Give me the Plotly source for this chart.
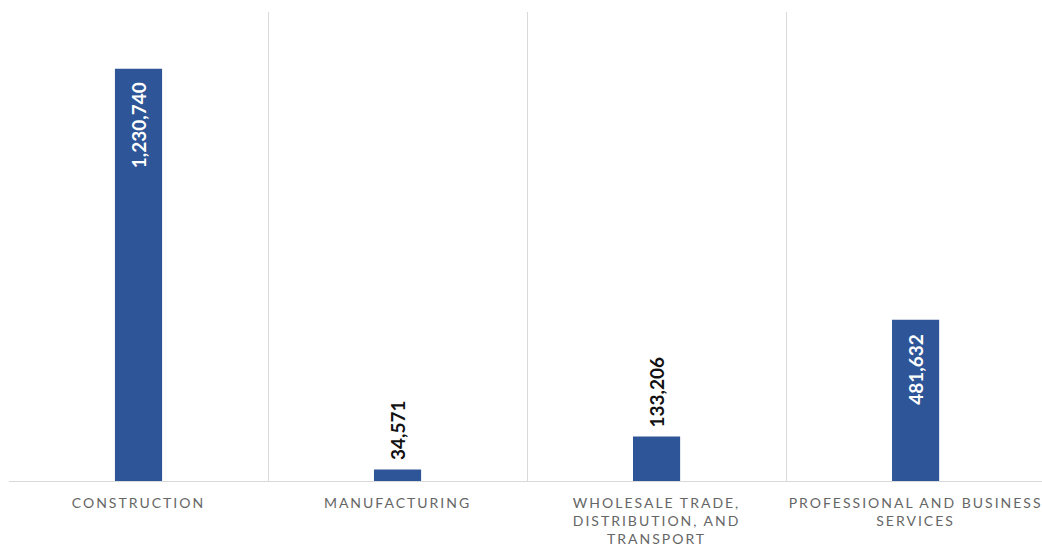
import plotly.graph_objects as go

# Employment by sector
categories = [
    "CONSTRUCTION",
    "MANUFACTURING",
    "WHOLESALE TRADE,<br>DISTRIBUTION, AND<br>TRANSPORT",
    "PROFESSIONAL AND BUSINESS<br>SERVICES",
]
values = [1230740, 34571, 133206, 481632]
label_inside = [True, False, False, True]

BAR_COLOR = "#2E5597"
GRID_COLOR = "#D9D9D9"
LABEL_FONT = "Lato, 'Open Sans', sans-serif"

keys = [f"c{i}" for i in range(len(categories))]

fig = go.Figure(
    go.Bar(
        x=keys,
        y=values,
        marker=dict(color=BAR_COLOR, line=dict(width=0)),
        width=0.182,
        hoverinfo="skip",
    )
)

# Rotated value labels: inside the bar top for tall bars, above short ones
for k, v, inside in zip(keys, values, label_inside):
    fig.add_annotation(
        x=k,
        y=v,
        xref="x",
        yref="y",
        text=f"<b>{v:,}</b>",
        textangle=-90,
        showarrow=False,
        xanchor="center",
        yanchor="top" if inside else "bottom",
        yshift=-12 if inside else 7,
        font=dict(family=LABEL_FONT, size=19, color="#FFFFFF" if inside else "#111111"),
    )

SP = "<span style='letter-spacing:2px'>"
tick_text = [SP + c.replace("<br>", "</span><br>" + SP) + "</span>" for c in categories]

fig.update_layout(
    width=1042,
    height=548,
    margin=dict(l=9, r=0, t=12, b=67),
    paper_bgcolor="white",
    plot_bgcolor="white",
    showlegend=False,
    bargap=0.82,
    xaxis=dict(
        type="category",
        categoryorder="array",
        categoryarray=keys,
        range=[-0.5, 3.488],
        tickmode="array",
        tickvals=keys,
        ticktext=tick_text,
        tickson="boundaries",
        tickangle=0,
        ticks="",
        showgrid=True,
        gridcolor=GRID_COLOR,
        gridwidth=1,
        showline=True,
        linecolor=GRID_COLOR,
        linewidth=1,
        zeroline=False,
        tickfont=dict(family=LABEL_FONT, size=14, color="#666666"),
        ticklabelstandoff=9,
        ticklabeloverflow="allow",
        automargin=False,
        fixedrange=True,
    ),
    yaxis=dict(
        range=[0, 1400000],
        showgrid=False,
        zeroline=False,
        showticklabels=False,
        ticks="",
        showline=False,
        automargin=False,
        fixedrange=True,
    ),
)

fig.write_html("out.html")
